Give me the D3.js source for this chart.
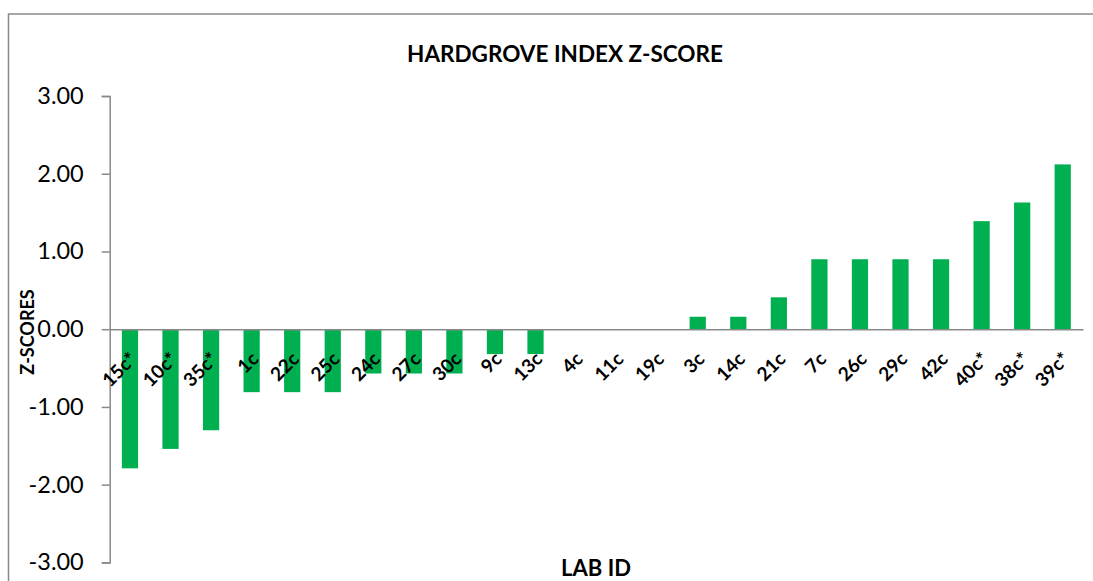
<!DOCTYPE html>
<html><head><meta charset="utf-8">
<script src="https://cdn.jsdelivr.net/npm/d3@7/dist/d3.min.js"></script>
<style>body{margin:0;background:#fff}svg{display:block}</style>
</head><body>
<svg id="c" width="1093" height="581"></svg>
<script>
const labIds = ["15c*","10c*","35c*","1c","22c","25c","24c","27c","30c","9c","13c","4c","11c","19c","3c","14c","21c","7c","26c","29c","42c","40c*","38c*","39c*"];
const zScores = [-1.79,-1.54,-1.30,-0.81,-0.81,-0.81,-0.57,-0.57,-0.57,-0.32,-0.32,0,0,0,0.16,0.16,0.41,0.90,0.90,0.90,0.90,1.39,1.63,2.12];
const yTicks = [-3,-2,-1,0,1,2,3];
const titleText = "HARDGROVE INDEX Z-SCORE";
const yTitle = "Z-SCORES";
const xTitle = "LAB ID";

const svg = d3.select("#c");
const font = "Lato, 'Open Sans', sans-serif";
const axisCol = "#898989";

svg.append("rect").attr("x",8.5).attr("y",14).attr("width",1200).attr("height",700)
  .attr("fill","none").attr("stroke",axisCol).attr("stroke-width",1.5);

const x = d3.scaleBand().domain(labIds).range([109.7,1083]).paddingInner(0.6).paddingOuter(0.3);
const y = d3.scaleLinear().domain([-3,3]).range([562.4,96]);

// bars
svg.append("g").selectAll("rect").data(labIds).join("rect")
  .attr("x", d => x(d))
  .attr("width", x.bandwidth())
  .attr("y", (d,i) => y(Math.max(0, zScores[i])))
  .attr("height", (d,i) => Math.abs(y(zScores[i]) - y(0)))
  .attr("fill", "#00B050");

// y axis
const fmt = d => d3.format(".2f")(d).replace("\u2212","-");
const ya = svg.append("g").attr("transform","translate(109.7,0)")
  .call(d3.axisLeft(y).tickValues(yTicks).tickFormat(fmt).tickSize(8).tickPadding(18));
ya.select(".domain").attr("stroke",axisCol).attr("stroke-width",1.5);
ya.selectAll(".tick line").attr("stroke",axisCol).attr("stroke-width",1.5);
ya.selectAll(".tick text").attr("font-family",font).attr("font-size",23.5).attr("fill","#000");

// x axis line at zero
const xa = svg.append("g").attr("transform",`translate(0,${y(0)})`)
  .call(d3.axisBottom(x).tickSize(0).tickSizeOuter(0).tickPadding(0));
xa.select(".domain").attr("stroke",axisCol).attr("stroke-width",1.5);
xa.selectAll(".tick text")
  .attr("font-family",font).attr("font-size",19).attr("font-weight","bold").attr("fill","#000")
  .attr("text-anchor","end").attr("dy",null).attr("y",0)
  .attr("transform","translate(8,31) rotate(-45)");

// titles
svg.append("text").attr("x",565).attr("y",62).attr("text-anchor","middle")
  .attr("font-family",font).attr("font-weight","bold").attr("font-size",22.5).attr("fill","#000").text(titleText);
svg.append("text").attr("transform","translate(34,332) rotate(-90)").attr("text-anchor","middle")
  .attr("font-family",font).attr("font-weight","bold").attr("font-size",18).attr("fill","#000").text(yTitle);
svg.append("text").attr("x",596).attr("y",576).attr("text-anchor","middle")
  .attr("font-family",font).attr("font-weight","bold").attr("font-size",22).attr("fill","#000").text(xTitle);
</script>
</body></html>
